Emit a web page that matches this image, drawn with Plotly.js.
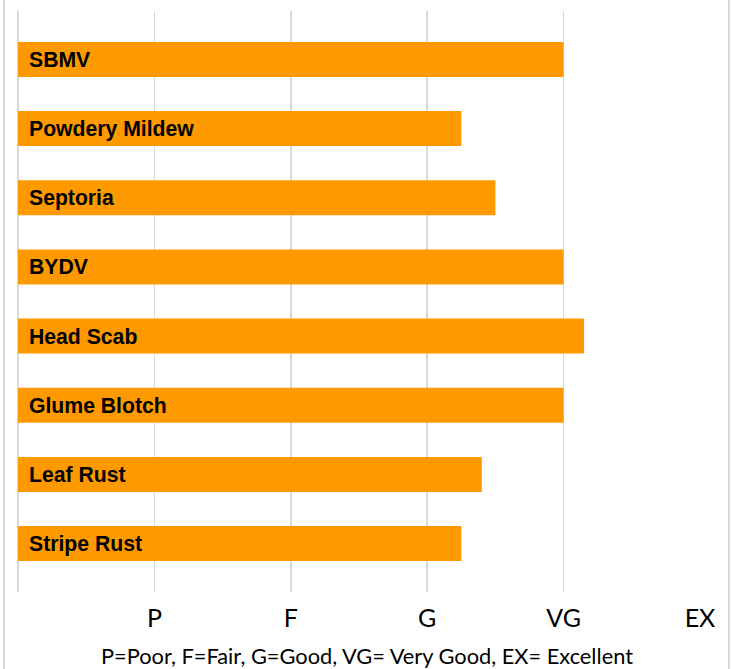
<!DOCTYPE html>
<html>
<head>
<meta charset="utf-8">
<script src="https://cdn.plot.ly/plotly-3.0.1.min.js"></script>
<style>html,body{margin:0;padding:0;background:#fff;}#chart{width:732px;height:669px;}</style>
</head>
<body>
<div id="chart"></div>
<script>
// Data (top to bottom as shown)
var diseases = ["SBMV", "Powdery Mildew", "Septoria", "BYDV", "Head Scab", "Glume Blotch", "Leaf Rust", "Stripe Rust"];
var ratings = [4.0, 3.25, 3.5, 4.0, 4.15, 4.0, 3.4, 3.25];
var tickValues = [1, 2, 3, 4, 5];
var tickLabels = ["P", "F", "G", "VG", "EX"];
var footnote = "P=Poor, F=Fair, G=Good, VG= Very Good, EX= Excellent";

var W = 732, H = 669;
var L = 18, R = 32, T = 11, B = 77;
var pw = W - L - R, ph = H - T - B;
function px2paperX(px) { return (px - L) / pw; }
function px2paperY(py) { return (H - B - py) / ph; }

var trace = {
  type: "bar",
  orientation: "h",
  y: diseases,
  x: ratings,
  marker: { color: "#FF9900", line: { width: 0 } },
  hoverinfo: "none"
};

var labelAnnotations = diseases.map(function (d) {
  return {
    text: "<b>" + d + "</b>",
    xref: "x", yref: "y",
    x: 0, y: d,
    xanchor: "left", yanchor: "middle",
    xshift: 9,
    showarrow: false,
    font: { family: "Liberation Sans, Arial, sans-serif", size: 21.2, color: "#000000" }
  };
});

var layout = {
  width: W, height: H,
  margin: { l: L, r: R, t: T, b: B, pad: 0 },
  paper_bgcolor: "#ffffff",
  plot_bgcolor: "#ffffff",
  showlegend: false,
  bargap: 0.494,
  font: { family: "Lato, Carlito, Calibri, sans-serif", color: "#000000" },
  xaxis: {
    range: [0, 5],
    tickvals: tickValues,
    ticktext: tickLabels,
    ticks: "",
    showgrid: true,
    gridcolor: "#d9d9d9",
    gridwidth: 1.5,
    zeroline: true,
    zerolinecolor: "#d9d9d9",
    zerolinewidth: 1.5,
    showline: false,
    tickfont: { family: "Lato, Carlito, sans-serif", size: 25, color: "#000000" },
    ticklabelstandoff: 9,
    fixedrange: true
  },
  yaxis: {
    type: "category",
    categoryorder: "array",
    categoryarray: diseases,
    range: [7.7, -0.7],
    showticklabels: false,
    showgrid: false,
    zeroline: false,
    showline: false,
    ticks: "",
    fixedrange: true
  },
  annotations: labelAnnotations.concat([{
    text: footnote,
    xref: "paper", yref: "paper",
    x: px2paperX(366.5), y: px2paperY(655),
    xanchor: "center", yanchor: "middle",
    showarrow: false,
    font: { family: "Lato, Carlito, sans-serif", size: 21.8, color: "#000000" }
  }]),
  shapes: [
    { type: "line", xref: "paper", yref: "paper", x0: px2paperX(4), x1: px2paperX(4), y0: px2paperY(0), y1: px2paperY(669), line: { color: "#d9d9d9", width: 2 } },
    { type: "line", xref: "paper", yref: "paper", x0: px2paperX(729), x1: px2paperX(729), y0: px2paperY(0), y1: px2paperY(669), line: { color: "#d9d9d9", width: 2 } }
  ]
};

Plotly.newPlot("chart", [trace], layout, { displayModeBar: false, staticPlot: true });
</script>
</body>
</html>
